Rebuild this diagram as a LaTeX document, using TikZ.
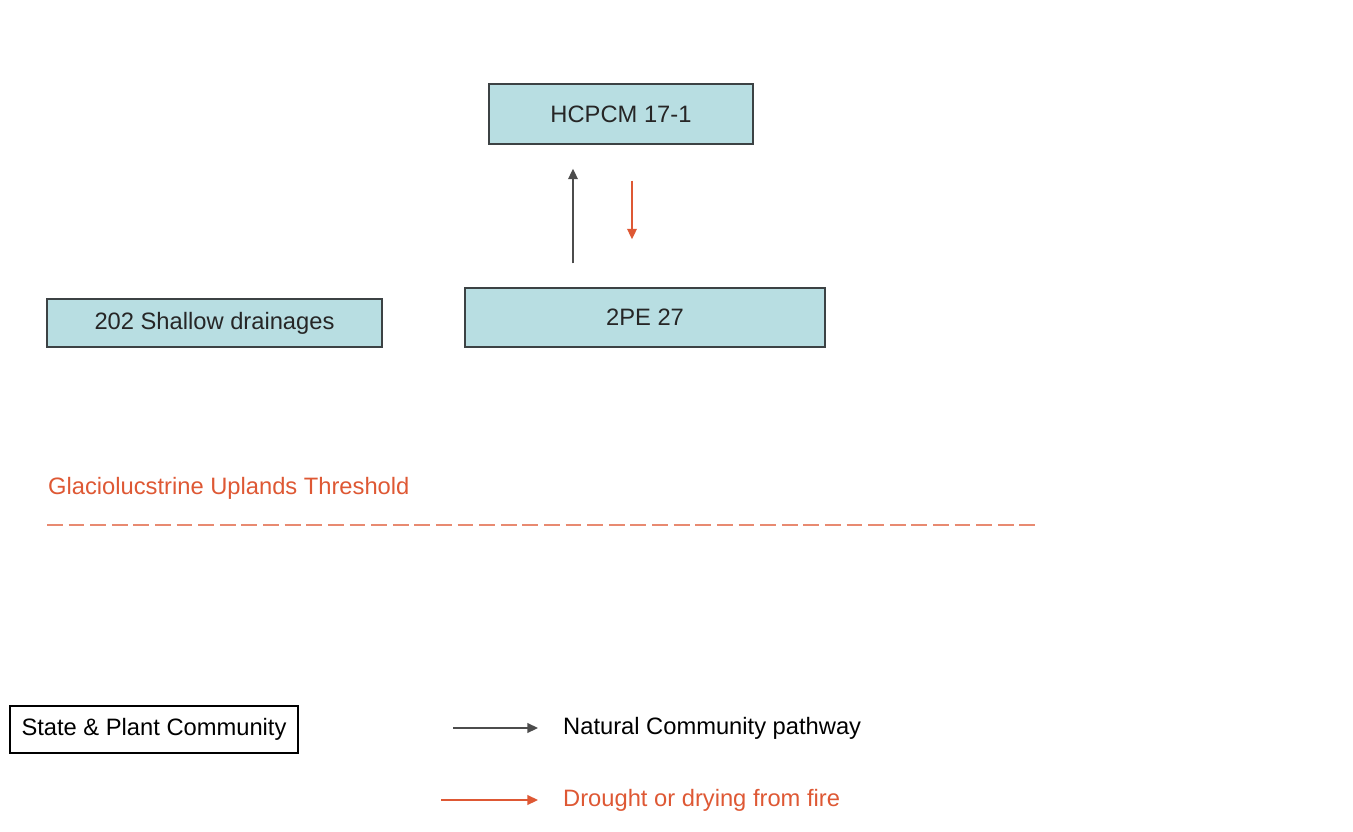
\documentclass[tikz,border=0pt]{standalone}
\usepackage{fontspec}
\setmainfont{Liberation Sans}
\usepackage{tikz}
\usetikzlibrary{arrows.meta}
\usepackage{xcolor}
\definecolor{statecolor}{RGB}{184,222,226}
\definecolor{edgecolor}{RGB}{60,66,68}
\definecolor{firecolor}{RGB}{222,88,52}

\begin{document}
\begin{tikzpicture}[x=0.02cm, y=-0.02cm, font=\fontsize{13.5}{16}\selectfont]
    % Define styles
    \tikzstyle{state} = [rectangle, draw=edgecolor, line width=0.8pt, fill=statecolor, text=black!85, text centered, minimum height=1cm]
    \tikzstyle{legendbox} = [rectangle, draw, line width=0.7pt, fill=white, text centered, minimum width=5.76cm, minimum height=0.94cm]
    \tikzstyle{arrow} = [line width=0.9pt, black!70, ->, >={Triangle[length=6pt,width=5.5pt]}]
    \tikzstyle{firearrow} = [line width=0.9pt, firecolor, ->, >={Triangle[length=6pt,width=5.5pt]}]
    \tikzstyle{threshold} = [line width=1.3pt, firecolor!70, dash pattern=on 9pt off 3.3pt]
    \useasboundingbox (0,0) rectangle (1353,832);

    % Nodes
    \node [state, minimum width=5.28cm, minimum height=1.2cm] (hcpcm) at (621,114) {HCPCM 17-1};
    \node [state, minimum width=6.7cm, minimum height=0.96cm] (shallow) at (214.5,323) {202 Shallow drainages};
    \node [state, minimum width=7.2cm, minimum height=1.18cm] (twope) at (645,317.5) {2PE 27};
    \node [anchor=west, text=firecolor] (thresholdlabel) at (42,488) {Glaciolucstrine Uplands Threshold};

    % Legend
    \node [legendbox] (legstate) at (154,729.5) {State \& Plant Community};
    \node [anchor=west] (nattext) at (557,728) {Natural Community pathway};
    \node [anchor=west, text=firecolor] (firetext) at (557,800) {Drought or drying from fire};
    \coordinate (natstart) at (453,728);
    \coordinate (firestart) at (441,800);

    % Arrows
    \coordinate (upx) at (573,0);
    \coordinate (downx) at (632,0);
    \draw [arrow, shorten <=0.48cm, shorten >=0.48cm] (twope.north -| upx) -- (hcpcm.south -| upx);
    \draw [firearrow, shorten <=0.72cm, shorten >=0.96cm] (hcpcm.south -| downx) -- (twope.north -| downx);
    \draw [threshold] (47,525) -- (1040,525);
    \draw [arrow] (natstart) -- ([xshift=-0.38cm]nattext.west);
    \draw [firearrow] (firestart) -- ([xshift=-0.38cm]firetext.west);
\end{tikzpicture}
\end{document}
